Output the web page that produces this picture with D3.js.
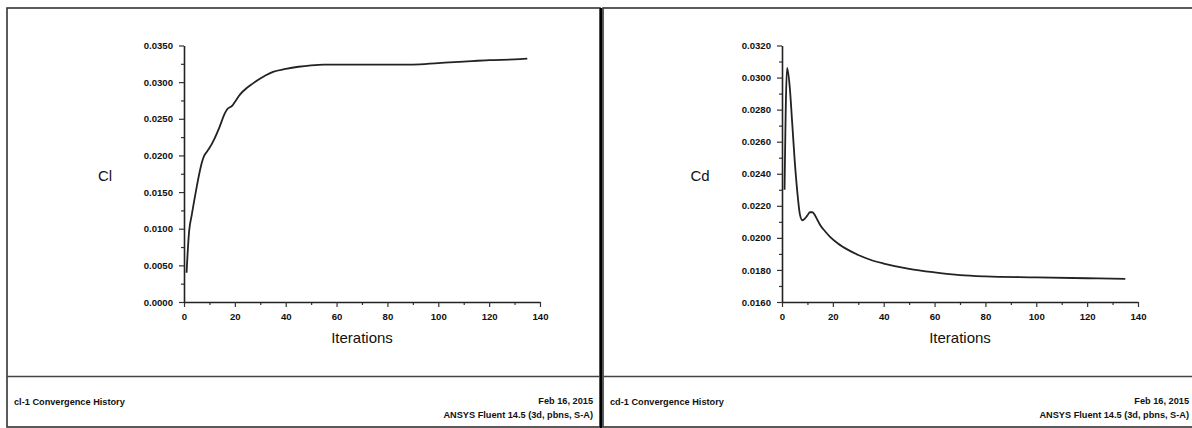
<!DOCTYPE html>
<html>
<head>
<meta charset="utf-8">
<script src="https://cdn.jsdelivr.net/npm/d3@7"></script>
<style>
  html, body { margin: 0; padding: 0; background: #fff; }
  svg { display: block; font-family: "Liberation Sans", Arial, sans-serif; }
</style>
</head>
<body>
<svg id="chart" width="1192" height="428"></svg>
<script>
// iterations / values
const clIter = [1, 2, 3, 4, 5, 6, 7, 8, 9, 10, 12, 14, 16, 17, 19, 20, 22, 24, 27, 30, 32, 35, 40, 45, 50, 55, 60, 70, 80, 90, 100, 110, 120, 130, 135];
const clValues = [0.0040, 0.0096, 0.0118, 0.0138, 0.0157, 0.0175, 0.0190, 0.0200, 0.0205, 0.0210, 0.0223, 0.0239, 0.0257, 0.0263, 0.0268, 0.0273, 0.0283, 0.0290, 0.0298, 0.0305, 0.0309, 0.0314, 0.0318, 0.0321, 0.0323, 0.0324, 0.0324, 0.0324, 0.0324, 0.0324, 0.0326, 0.0328, 0.0330, 0.0331, 0.0332];

const cdIter = [1, 2, 3, 4, 5, 6, 7, 8, 9, 10, 11, 12, 13, 14, 15, 17, 19, 22, 26, 30, 35, 40, 50, 60, 70, 80, 100, 120, 135];
const cdValues = [0.0230, 0.0306, 0.0295, 0.0272, 0.0248, 0.0229, 0.0215, 0.0211, 0.0212, 0.0214, 0.0216, 0.0216, 0.0214, 0.0211, 0.0208, 0.0204, 0.02005, 0.01965, 0.01925, 0.01893, 0.01862, 0.0184, 0.01807, 0.01785, 0.01768, 0.0176, 0.01754, 0.01748, 0.01744];

const xTicks = [0, 20, 40, 60, 80, 100, 120, 140];
const xMinor = [10, 30, 50, 70, 90, 110, 130];
const clTicks = [0, 0.005, 0.010, 0.015, 0.020, 0.025, 0.030, 0.035];
const clMinor = [0.0025, 0.0075, 0.0125, 0.0175, 0.0225, 0.0275, 0.0325];
const cdTicks = [0.016, 0.018, 0.020, 0.022, 0.024, 0.026, 0.028, 0.030, 0.032];
const cdMinor = [0.017, 0.019, 0.021, 0.023, 0.025, 0.027, 0.029, 0.031];

const svg = d3.select("#chart");
const lineColor = "#222";

// one Fluent-style panel: frame, plot, footer
function drawPanel(opt) {
    const g = svg.append("g");

    // outer frame + footer separator
    g.append("rect")
        .attr("x", opt.left).attr("y", 8)
        .attr("width", opt.right - opt.left).attr("height", 419)
        .attr("fill", "none").attr("stroke", "#333").attr("stroke-width", 1.6);
    g.append("line")
        .attr("x1", opt.left).attr("x2", opt.right)
        .attr("y1", 376.5).attr("y2", 376.5)
        .attr("stroke", "#444").attr("stroke-width", 1.6);

    const x = d3.scaleLinear().domain([0, 140]).range([opt.x0, opt.x0 + 356]);
    const y = d3.scaleLinear().domain(opt.yDomain).range([302, 45.5]);

    // minor ticks first, no labels
    g.append("g")
        .attr("transform", `translate(0,302)`)
        .call(d3.axisBottom(x).tickValues(xMinor).tickSize(3).tickFormat(""))
        .call(a => a.select(".domain").remove());
    g.append("g")
        .attr("transform", `translate(${opt.x0},0)`)
        .call(d3.axisLeft(y).tickValues(opt.minor).tickSize(3).tickFormat(""))
        .call(a => a.select(".domain").remove());

    const xAxis = g.append("g")
        .attr("transform", `translate(0,302)`)
        .call(d3.axisBottom(x).tickValues(xTicks).tickSize(5).tickSizeOuter(0).tickPadding(6));
    const yAxis = g.append("g")
        .attr("transform", `translate(${opt.x0},0)`)
        .call(d3.axisLeft(y).tickValues(opt.ticks).tickSize(5).tickSizeOuter(0).tickPadding(6)
            .tickFormat(d3.format(".4f")));

    [xAxis, yAxis].forEach(a => {
        a.select(".domain").attr("stroke", "#222").attr("stroke-width", 1.6);
        a.selectAll(".tick text")
            .attr("font-family", "'Liberation Sans', Arial, sans-serif")
            .attr("font-size", "9.6px")
            .attr("font-weight", "bold")
            .attr("fill", "#111");
    });
    g.selectAll(".tick line").attr("stroke", "#333").attr("stroke-width", 1.2);

    // axis titles
    g.append("text")
        .attr("x", opt.yLabelX).attr("y", 176)
        .attr("text-anchor", "middle").attr("dy", "0.35em")
        .attr("font-size", "15px").attr("fill", "#111")
        .text(opt.yLabel);
    g.append("text")
        .attr("x", opt.x0 + 178).attr("y", 338)
        .attr("text-anchor", "middle").attr("dy", "0.35em")
        .attr("font-size", "15px").attr("fill", "#111")
        .text("Iterations");

    // the convergence curve
    const pts = opt.iter.map((it, i) => [it, opt.values[i]]);
    g.append("path")
        .datum(pts)
        .attr("fill", "none")
        .attr("stroke", lineColor)
        .attr("stroke-width", 1.8)
        .attr("stroke-linejoin", "round")
        .attr("d", d3.line().x(d => x(d[0])).y(d => y(d[1])).curve(d3.curveMonotoneX));

    // footer texts
    g.append("text")
        .attr("x", opt.left + 7).attr("y", 405)
        .attr("font-size", "9.2px").attr("font-weight", "bold").attr("fill", "#111")
        .text(opt.title);
    g.append("text")
        .attr("x", opt.textRight).attr("y", 404)
        .attr("text-anchor", "end")
        .attr("font-size", "9.2px").attr("font-weight", "bold").attr("fill", "#111")
        .text("Feb 16, 2015");
    g.append("text")
        .attr("x", opt.textRight).attr("y", 418)
        .attr("text-anchor", "end")
        .attr("font-size", "9.2px").attr("font-weight", "bold").attr("fill", "#111")
        .text("ANSYS Fluent 14.5 (3d, pbns, S-A)");
}

drawPanel({
    left: 7, right: 600, x0: 184,
    yDomain: [0, 0.035], ticks: clTicks, minor: clMinor,
    yLabel: "Cl", yLabelX: 105,
    iter: clIter, values: clValues,
    title: "cl-1 Convergence History", textRight: 593
});

drawPanel({
    left: 603, right: 1196, x0: 782,
    yDomain: [0.016, 0.032], ticks: cdTicks, minor: cdMinor,
    yLabel: "Cd", yLabelX: 700,
    iter: cdIter, values: cdValues,
    title: "cd-1 Convergence History", textRight: 1189
});

// heavy divider between the two panels
svg.append("line")
    .attr("x1", 601).attr("x2", 601).attr("y1", 8).attr("y2", 428)
    .attr("stroke", "#000").attr("stroke-width", 2.2);
</script>
</body>
</html>
